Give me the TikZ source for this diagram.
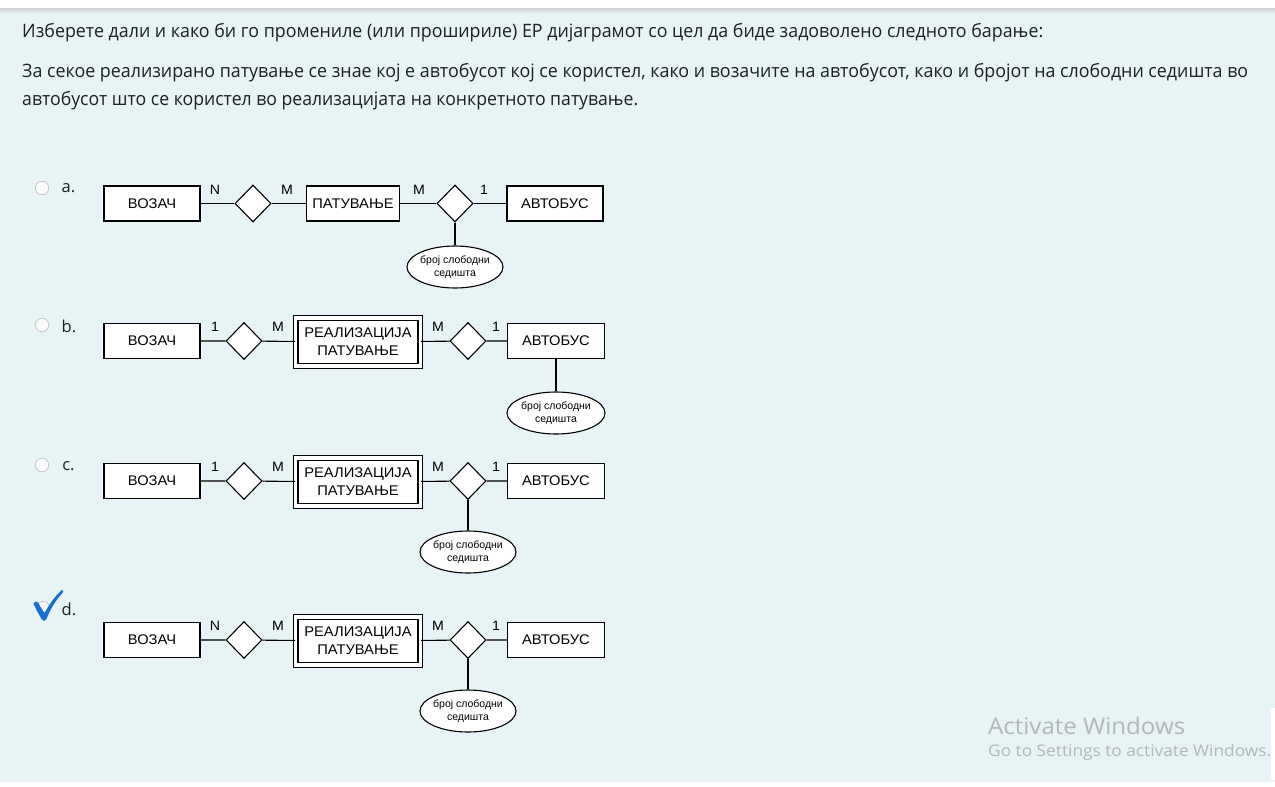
\documentclass[tikz,border=0pt]{standalone}
\usepackage{fontspec}
\setmainfont{Open Sans}
\newfontfamily\arialf[FakeStretch=1.05]{Liberation Sans}
\newfontfamily\arialn{Liberation Sans}
\usetikzlibrary{shapes.geometric}
\definecolor{bgblue}{RGB}{231,243,245}
\definecolor{txt}{RGB}{29,33,37}
\definecolor{wmark}{RGB}{178,183,185}
\definecolor{chk}{RGB}{22,112,212}
\definecolor{radioc}{RGB}{196,200,204}
\newsavebox\fitbox
\newcommand\fitto[2]{\sbox\fitbox{#2}\pgfmathsetmacro\fitsx{#1/\the\wd\fitbox}\scalebox{\fitsx}[1]{\usebox\fitbox}}
\tikzset{
  hdr/.style={anchor=base west, inner sep=0pt, text=txt, font=\fontsize{18.5}{22}\selectfont},
  optl/.style={inner sep=0pt, text=txt, font=\fontsize{16.5}{18}\selectfont},
  radiob/.style={circle, draw=radioc, fill=white!96!gray, line width=0.8pt, minimum size=13.5pt, inner sep=0pt},
  ent/.style={draw, fill=white, line width=1.2pt, minimum width=96pt, minimum height=35pt, inner sep=0pt, font=\arialf\fontsize{14}{15}\selectfont},
  weak/.style={draw, fill=white, double=white, double distance=3.4pt, line width=1.1pt, minimum width=124.5pt, minimum height=48pt, inner sep=0pt, align=center, font=\arialf\fontsize{14}{18}\selectfont},
  rel/.style={diamond, draw, fill=white, line width=1.1pt, minimum width=36pt, minimum height=37pt, inner sep=0pt},
  attr/.style={ellipse, draw, fill=white, line width=1.1pt, minimum width=96pt, minimum height=42pt, inner xsep=-6pt, inner ysep=-3pt, align=center, font=\arialn\fontsize{10.5}{13.5}\selectfont},
  card/.style={inner sep=0pt, font=\arialf\fontsize{13.5}{13.5}\selectfont},
  conn/.style={draw, line width=1.1pt},
  wm/.style={anchor=base west, inner sep=0pt, text=wmark}
}
\begin{document}
\begin{tikzpicture}[x=1pt,y=-1pt]
\useasboundingbox (0,0) rectangle (1275,787);
% background
\fill[white] (0,0) rectangle (1275,787);
\fill[bgblue] (0,9) rectangle (1275,782);
\shade[top color=black!18, bottom color=bgblue] (0,8) rectangle (1275,13);
\fill[white, rounded corners=2pt] (1271,708) rectangle (1278,780);
% question text
\node[hdr] (q1) at (22,37) {\fitto{1021}{Изберете дали и како би го промениле (или прошириле) ЕР дијаграмот со цел да биде задоволено следното барање:}};
\node[hdr] (q2) at (22,77) {\fitto{1226}{За секое реализирано патување се знае кој е автобусот кој се користел, како и возачите на автобусот, како и бројот на слободни седишта во}};
\node[hdr] (q3) at (22,105) {\fitto{616}{автобусот што се користел во реализацијата на конкретното патување.}};

% ---------- option a ----------
\node[radiob] (ra) at (42,188) {};
\node[optl] (la) at (68.5,188) {a.};
\node[ent] (a1) at (152,203.5) {ВОЗАЧ};
\node[rel] (ar1) at (253,203.5) {};
\node[ent, minimum width=93pt] (a2) at (353,203.5) {ПАТУВАЊЕ};
\node[rel] (ar2) at (455,203.5) {};
\node[ent] (a3) at (555,203.5) {АВТОБУС};
\node[attr] (aat) at (455,267) {број слободни\\седишта};
\draw[conn] (a1) -- (ar1) -- (a2) -- (ar2) -- (a3);
\draw[conn] (ar2) -- (aat);
\node[card] (an1) at (215,190) {N};
\node[card] (am1) at (287,190) {M};
\node[card] (am2) at (419,190) {M};
\node[card] (a11) at (484,190) {1};

% ---------- option b ----------
\node[radiob] (rb) at (42,325) {};
\node[optl] (lb) at (69,326) {b.};
\node[ent] (b1) at (152,341) {ВОЗАЧ};
\node[rel] (br1) at (244,341) {};
\node[weak] (b2) at (358,342) {РЕАЛИЗАЦИЈА\\ПАТУВАЊЕ};
\node[rel] (br2) at (468,341) {};
\node[ent, minimum width=97pt] (b3) at (556,341) {АВТОБУС};
\node[attr, minimum width=98pt] (bat) at (556,413) {број слободни\\седишта};
\draw[conn] (b1) -- (br1) -- (b2) -- (br2) -- (b3);
\draw[conn] (b3) -- (bat);
\node[card] (bn1) at (215,327) {1};
\node[card] (bm1) at (278,327) {M};
\node[card] (bm2) at (438,327) {M};
\node[card] (b11) at (496,327) {1};

% ---------- option c ----------
\node[radiob] (rc) at (42,465) {};
\node[optl] (lc) at (68.5,466) {c.};
\node[ent] (c1) at (152,481) {ВОЗАЧ};
\node[rel] (cr1) at (244,481) {};
\node[weak] (c2) at (358,482) {РЕАЛИЗАЦИЈА\\ПАТУВАЊЕ};
\node[rel] (cr2) at (468,481) {};
\node[ent, minimum width=97pt] (c3) at (556,481) {АВТОБУС};
\node[attr] (cat) at (468,552) {број слободни\\седишта};
\draw[conn] (c1) -- (cr1) -- (c2) -- (cr2) -- (c3);
\draw[conn] (cr2) -- (cat);
\node[card] (cn1) at (215,467) {1};
\node[card] (cm1) at (278,467) {M};
\node[card] (cm2) at (438,467) {M};
\node[card] (c11) at (496,467) {1};

% ---------- option d ----------
\node[radiob] (rd) at (43,608) {};
\fill[chk] (33.5,604) .. controls (35,600) and (38,601) .. (40,606) -- (44.5,613) .. controls (50,603) and (56,595) .. (62,590) .. controls (63.5,589.5) and (63.5,591.5) .. (62.5,593) .. controls (55,601) and (50,610) .. (46.5,619) .. controls (45.5,621.5) and (42.5,621.5) .. (41.5,619) -- cycle;
\node[optl] (ld) at (69,609) {d.};
\node[ent] (d1) at (152,640) {ВОЗАЧ};
\node[rel] (dr1) at (244,640) {};
\node[weak] (d2) at (358,641) {РЕАЛИЗАЦИЈА\\ПАТУВАЊЕ};
\node[rel] (dr2) at (468,640) {};
\node[ent, minimum width=97pt] (d3) at (556,640) {АВТОБУС};
\node[attr] (dat) at (468,711) {број слободни\\седишта};
\draw[conn] (d1) -- (dr1) -- (d2) -- (dr2) -- (d3);
\draw[conn] (dr2) -- (dat);
\node[card] (dn1) at (215,626) {N};
\node[card] (dm1) at (278,626) {M};
\node[card] (dm2) at (438,626) {M};
\node[card] (d11) at (496,626) {1};

% watermark
\node[wm, font=\fontsize{23}{26}\selectfont] (w1) at (988,734) {\fitto{197}{Activate Windows}};
\node[wm, font=\fontsize{16}{18}\selectfont] (w2) at (988,756) {\fitto{283}{Go to Settings to activate Windows.}};
\end{tikzpicture}
\end{document}
